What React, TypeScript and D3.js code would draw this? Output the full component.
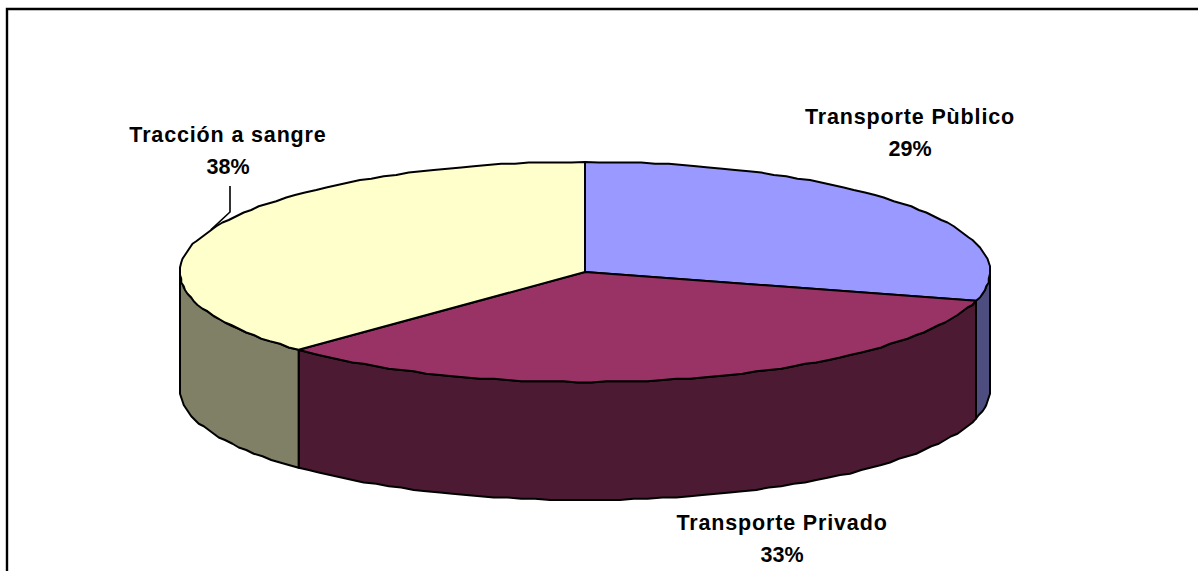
import React from "react";
import * as d3 from "d3";

const categories = ["Transporte Pùblico", "Transporte Privado", "Tracción a sangre"];
const values = [29.2, 33.3, 37.5];
const topColors = ["#9999FF", "#993366", "#FFFFCC"];
const sideColors = ["#4D4D80", "#4D1A33", "#808066"];

const W = 1198, H = 571;
const cx = 585, cy = 272, rx = 405, ry = 110, depth = 118;

const labelPos = [
  { x: 910, y1: 124, y2: 156 },
  { x: 782, y1: 530, y2: 562 },
  { x: 228, y1: 142, y2: 174 },
];

const px = (a: number) => cx + rx * Math.sin(a);
const py = (a: number, dy = 0) => cy - ry * Math.cos(a) + dy;
const snap = (v: number) => Math.round(v / 1.25) * 1.25;

function arcPts(a0: number, a1: number, dy = 0): [number, number][] {
  const n = Math.max(2, Math.ceil(Math.abs(a1 - a0) / 0.035));
  return d3.range(n + 1).map((i) => {
    const a = a0 + ((a1 - a0) * i) / n;
    const end = i === 0 || i === n;
    return [end ? px(a) : snap(px(a)), end ? py(a, dy) : snap(py(a, dy))] as [number, number];
  });
}

const line = d3.line();

export default function App() {
  const pie = d3.pie<number>().sort(null)(values);
  const front0 = Math.PI / 2, front1 = (3 * Math.PI) / 2;
  const mid = (pie[2].startAngle + pie[2].endAngle) / 2;
  return (
    <svg width={W} height={H} style={{ position: "absolute", left: 0, top: 0, background: "#fff" }}
      fontFamily="'Liberation Sans', Arial, sans-serif">
      <path d={`M7,${H}V9H${W}`} fill="none" stroke="#000" strokeWidth={2.4} />
      {pie.map((s, i) => {
        const a0 = Math.max(s.startAngle, front0), a1 = Math.min(s.endAngle, front1);
        if (a1 <= a0) return null;
        const pts = [...arcPts(a0, a1), ...arcPts(a1, a0, depth)];
        return <path key={i} d={line(pts) + "Z"} fill={sideColors[i]} stroke="#000" strokeWidth={2} strokeLinejoin="round" />;
      })}
      {pie.map((s, i) => {
        const pts: [number, number][] = [[cx, cy], ...arcPts(s.startAngle, s.endAngle)];
        return <path key={i} d={line(pts) + "Z"} fill={topColors[i]} stroke="#000" strokeWidth={2} strokeLinejoin="round" />;
      })}
      <path d={line([[230, 186], [230, 212], [px(mid), py(mid)]]) as string} fill="none" stroke="#000" strokeWidth={1.6} />
      {categories.map((c, i) => (
        <g key={c} textAnchor="middle" fontWeight="bold" fontSize={21.5} fill="#000">
          <text x={labelPos[i].x} y={labelPos[i].y1} letterSpacing={0.85}>{c}</text>
          <text x={labelPos[i].x} y={labelPos[i].y2}>{Math.round(values[i])}%</text>
        </g>
      ))}
    </svg>
  );
}
